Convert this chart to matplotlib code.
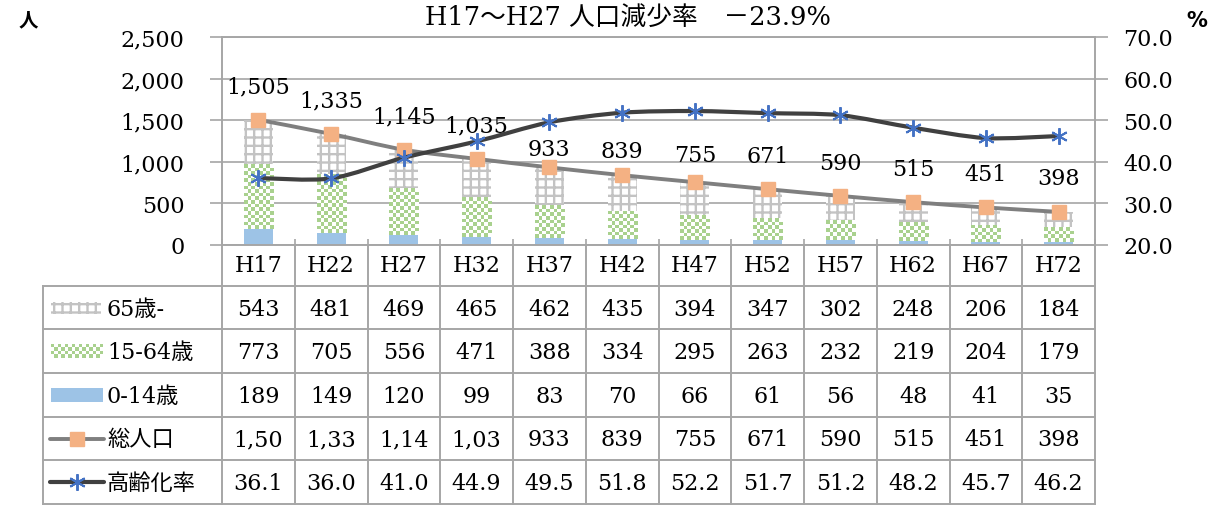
import numpy as np
import matplotlib
matplotlib.use("Agg")
import matplotlib.pyplot as plt
import matplotlib.colors as mcolors
import matplotlib.ticker as mticker
from matplotlib.path import Path
from matplotlib.patches import PathPatch, Rectangle

# population by age group (people) and ageing rate (%)
years = ["H17", "H22", "H27", "H32", "H37", "H42", "H47", "H52", "H57", "H62", "H67", "H72"]
elderly = [543, 481, 469, 465, 462, 435, 394, 347, 302, 248, 206, 184]
working = [773, 705, 556, 471, 388, 334, 295, 263, 232, 219, 204, 179]
young = [189, 149, 120, 99, 83, 70, 66, 61, 56, 48, 41, 35]
total = [1505, 1335, 1145, 1035, 933, 839, 755, 671, 590, 515, 451, 398]
aging_rate = [36.1, 36.0, 41.0, 44.9, 49.5, 51.8, 52.2, 51.7, 51.2, 48.2, 45.7, 46.2]
row_names = ["65歳-", "15-64歳", "0-14歳", "総人口", "高齢化率"]
title = "H17～H27 人口減少率　－23.9%"

# colours
BLUE = "#9DC3E6"
GREEN = "#A9D18E"
HATCH_GRAY = "#C3C3C3"
ORANGE = "#F4B183"
LINE_GRAY = "#7F7F7F"
DARK = "#404040"
STAR = "#4472C4"
FRAME = "#A6A6A6"

plt.rcParams["font.family"] = ["DejaVu Serif", "Noto Sans CJK JP"]
plt.rcParams["hatch.linewidth"] = 1.7
FS = 16

W, H = 1212, 506
L, R, T, B = 222, 1095, 38, 246           # plot area in pixels
row_edges = [246, 287, 330, 374, 418, 461, 505]
TABLE_LEFT = 43


def smooth_path(xs, ys, k=7.0):
    # cardinal-spline bezier through the points (like a smoothed line)
    pts = np.column_stack([xs, ys]).astype(float)
    n = len(pts)
    verts = [pts[0]]
    codes = [Path.MOVETO]
    for i in range(n - 1):
        p0 = pts[max(i - 1, 0)]
        p1 = pts[i]
        p2 = pts[i + 1]
        p3 = pts[min(i + 2, n - 1)]
        verts += [p1 + (p2 - p0) / k, p2 - (p3 - p1) / k, p2]
        codes += [Path.CURVE4] * 3
    return Path(verts, codes)


def checker(nrows, ncols, color):
    img = np.ones((nrows, ncols, 3))
    mask = np.add.outer(np.arange(nrows), np.arange(ncols)) % 2 == 0
    img[mask] = mcolors.to_rgb(color)
    return img


fig = plt.figure(figsize=(W / 100, H / 100), dpi=100)
ax = fig.add_axes([L / W, 1 - B / H, (R - L) / W, (B - T) / H])
x = np.arange(len(years))
bw = 0.4

young_a = np.array(young)
working_a = np.array(working)

ax.bar(x, young, width=bw, color=BLUE, zorder=2)
work_bars = ax.bar(x, working, bottom=young_a, width=bw, color=GREEN, zorder=2)
ax.bar(x, elderly, bottom=young_a + working_a, width=bw, facecolor="white",
       edgecolor=HATCH_GRAY, linewidth=0, hatch="++", zorder=2)

# checker pattern over the working-age bars
px_per_unit = (B - T) / 2500
for rect in work_bars:
    nrows = max(1, int(round(rect.get_height() * px_per_unit / 3.6)))
    ax.imshow(checker(nrows, 8, GREEN),
              extent=(rect.get_x(), rect.get_x() + rect.get_width(),
                      rect.get_y(), rect.get_y() + rect.get_height()),
              aspect="auto", interpolation="nearest", zorder=3)

# total population line
ax.add_patch(PathPatch(smooth_path(x, total), fill=False, edgecolor=LINE_GRAY,
                       linewidth=2.8, zorder=4, capstyle="round"))
ax.plot(x, total, linestyle="none", marker="s", markersize=10.5,
        markerfacecolor=ORANGE, markeredgecolor=ORANGE, zorder=5)

label_offsets = [33, 33, 33, 33, 18, 24, 27, 33, 33, 33, 33, 34]   # px above marker
for i, v in enumerate(total):
    ax.annotate(f"{v:,}", (x[i], v), xytext=(0, label_offsets[i] * 0.72),
                textcoords="offset points", ha="center", va="center",
                fontsize=FS, zorder=6)

ax.set_xlim(-0.5, len(years) - 0.5)
ax.set_ylim(0, 2500)
ax.set_yticks(range(0, 2501, 500))
ax.yaxis.set_major_formatter(mticker.FuncFormatter(lambda v, p: f"{int(v):,}"))
ax.set_xticks(np.arange(-0.5, len(years), 1.0))
ax.set_xticklabels([])
ax.tick_params(axis="x", direction="in", length=4, width=1.2, color=FRAME)
ax.tick_params(axis="y", length=9, width=1.2, color=FRAME, pad=18, labelsize=FS)
ax.yaxis.grid(True, color=FRAME, linewidth=1.2)
ax.set_axisbelow(True)
for s in ax.spines.values():
    s.set_color(FRAME)
    s.set_linewidth(1.2)

# ageing rate on the secondary axis
ax2 = ax.twinx()
ax2.add_patch(PathPatch(smooth_path(x, aging_rate), fill=False, edgecolor=DARK,
                        linewidth=3.0, zorder=4, capstyle="round"))
ax2.plot(x, aging_rate, linestyle="none", marker=(6, 2, 0), markersize=12,
         markeredgewidth=1.4, markeredgecolor=STAR, zorder=5)
ax2.set_ylim(20, 70)
ax2.set_yticks(range(20, 71, 10))
ax2.yaxis.set_major_formatter(mticker.FormatStrFormatter("%.1f"))
ax2.tick_params(axis="y", length=9, width=1.2, color=FRAME, pad=11.5, labelsize=FS)
for s in ax2.spines.values():
    s.set_color(FRAME)
    s.set_linewidth(1.2)

fig.text(628 / W, 1 - 17 / H, title, ha="center", va="center", fontsize=18.5)
fig.text(28 / W, 1 - 21 / H, "人", ha="center", va="center", fontsize=14,
         family="Noto Sans CJK JP", weight="bold")
fig.text(1197 / W, 1 - 21 / H, "%", ha="center", va="center", fontsize=15,
         family="DejaVu Sans", weight="bold")

# data table under the plot, drawn in pixel coordinates
tax = fig.add_axes([0, 0, 1, 1])
tax.axis("off")
colw = (R - L) / len(years)
lw_tab = 1.4
for y in row_edges[1:]:
    tax.plot([TABLE_LEFT, R], [y, y], color=FRAME, linewidth=lw_tab)
tax.plot([TABLE_LEFT, TABLE_LEFT], [row_edges[1], row_edges[-1]], color=FRAME, linewidth=lw_tab)
for k in range(len(years) + 1):
    xx = L + k * colw
    tax.plot([xx, xx], [row_edges[0], row_edges[-1]], color=FRAME, linewidth=lw_tab)

centers = [(row_edges[i] + row_edges[i + 1]) / 2 for i in range(len(row_edges) - 1)]
table_rows = [
    [str(v) for v in elderly],
    [str(v) for v in working],
    [str(v) for v in young],
    [f"{v:,}"[:4] for v in total],       # narrow cells cut the thousands
    [f"{v:.1f}" for v in aging_rate],
]
for i, yr in enumerate(years):
    cx = L + (i + 0.5) * colw
    tax.text(cx, centers[0], yr, ha="center", va="center", fontsize=FS)
    for r, vals in enumerate(table_rows):
        tax.text(cx, centers[r + 1] + 1, vals[i], ha="center", va="center", fontsize=FS)

for r, name in enumerate(row_names):
    tax.text(107, centers[r + 1] + 1, name, ha="left", va="center", fontsize=FS)

# legend keys
cy = centers[1]
tax.add_patch(Rectangle((51, cy - 6), 50, 12, facecolor="white", edgecolor=HATCH_GRAY,
                        linewidth=0, hatch="++"))
cy = centers[2]
tax.imshow(checker(4, 15, GREEN), extent=(51, 103, cy + 7, cy - 7),
           aspect="auto", interpolation="nearest")
cy = centers[3]
tax.add_patch(Rectangle((51, cy - 7), 52, 14, facecolor=BLUE, edgecolor="none"))
cy = centers[4]
tax.plot([50, 104], [cy, cy], color=LINE_GRAY, linewidth=2.8, solid_capstyle="round")
tax.plot([77], [cy], marker="s", markersize=10.5, color=ORANGE)
cy = centers[5]
tax.plot([50, 104], [cy, cy], color=DARK, linewidth=3.0, solid_capstyle="round")
tax.plot([77], [cy], marker=(6, 2, 0), markersize=12, markeredgewidth=1.4,
         markeredgecolor=STAR)

tax.set_xlim(0, W)
tax.set_ylim(H, 0)

fig.savefig("out.png", dpi=100)
